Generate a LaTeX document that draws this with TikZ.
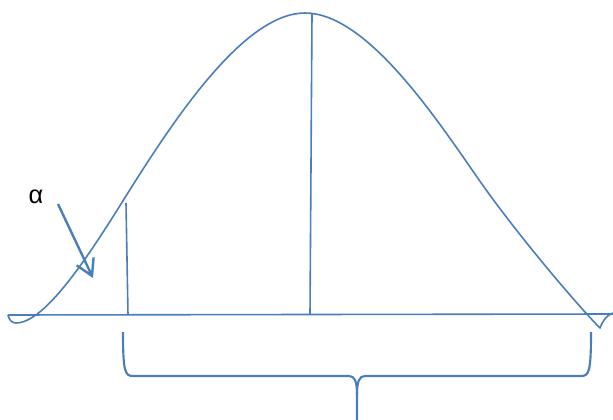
\documentclass[tikz,border=0pt]{standalone}
\usepackage{fontspec}
\setmainfont{Liberation Sans}
\usetikzlibrary{arrows.meta}
\definecolor{lineblue}{HTML}{4A7EBB}
\begin{document}
\begin{tikzpicture}[x=0.75pt,y=-0.75pt,
  curve/.style={draw=lineblue,line width=1.2pt,line join=round},
  brace/.style={draw=lineblue,line width=1.6pt},
  pointer/.style={draw=lineblue,line width=1.8pt,-{Straight Barb[length=12pt,width=14pt,line width=1.8pt]}}]
\useasboundingbox (0,0) rectangle (613,420);
% bell curve
\coordinate (cs) at (8,315);
\coordinate (cpeak) at (305,13);
\coordinate (ctip) at (600,328);
\coordinate (cend) at (613,313);
\draw[curve] (cs) .. controls (9,320) and (12,323) .. (16,323)
  .. controls (46,323) and (91,252) .. (126,196)
  .. controls (176,116) and (245,13) .. (cpeak)
  .. controls (365,13) and (432,112) .. (477,177)
  .. controls (515,232) and (578,306) .. (ctip)
  .. controls (603,320) and (607,315) .. (cend);
% baseline
\coordinate (bl) at (8,315);
\coordinate (br) at (613,314);
\draw[curve] (bl) -- (br);
% vertical lines
\coordinate (v1t) at (126,203);
\coordinate (v1b) at (128,315);
\coordinate (v2t) at (312,14);
\coordinate (v2b) at (310,315);
\draw[curve] (v1t) -- (v1b);
\draw[curve] (v2t) -- (v2b);
% brace
\coordinate (bL) at (123,332);
\coordinate (bR) at (591,332);
\coordinate (bM) at (357,395);
\coordinate (bT) at (357,420);
\draw[brace] (bL) .. controls (123,372) and (125,376) .. (133,376) -- (349,376)
  .. controls (355,376) and (357,382) .. (bM) -- (bT);
\draw[brace] (bM) .. controls (357,382) and (359,376) .. (365,376) -- (581,376)
  .. controls (589,376) and (591,372) .. (bR);
% alpha label and arrow
\node (alpha) at (36,197) {\fontsize{19}{20}\selectfont α};
\coordinate (as) at (58,204);
\coordinate (ae) at (93,278);
\draw[pointer] (as) -- (ae);
\end{tikzpicture}
\end{document}
